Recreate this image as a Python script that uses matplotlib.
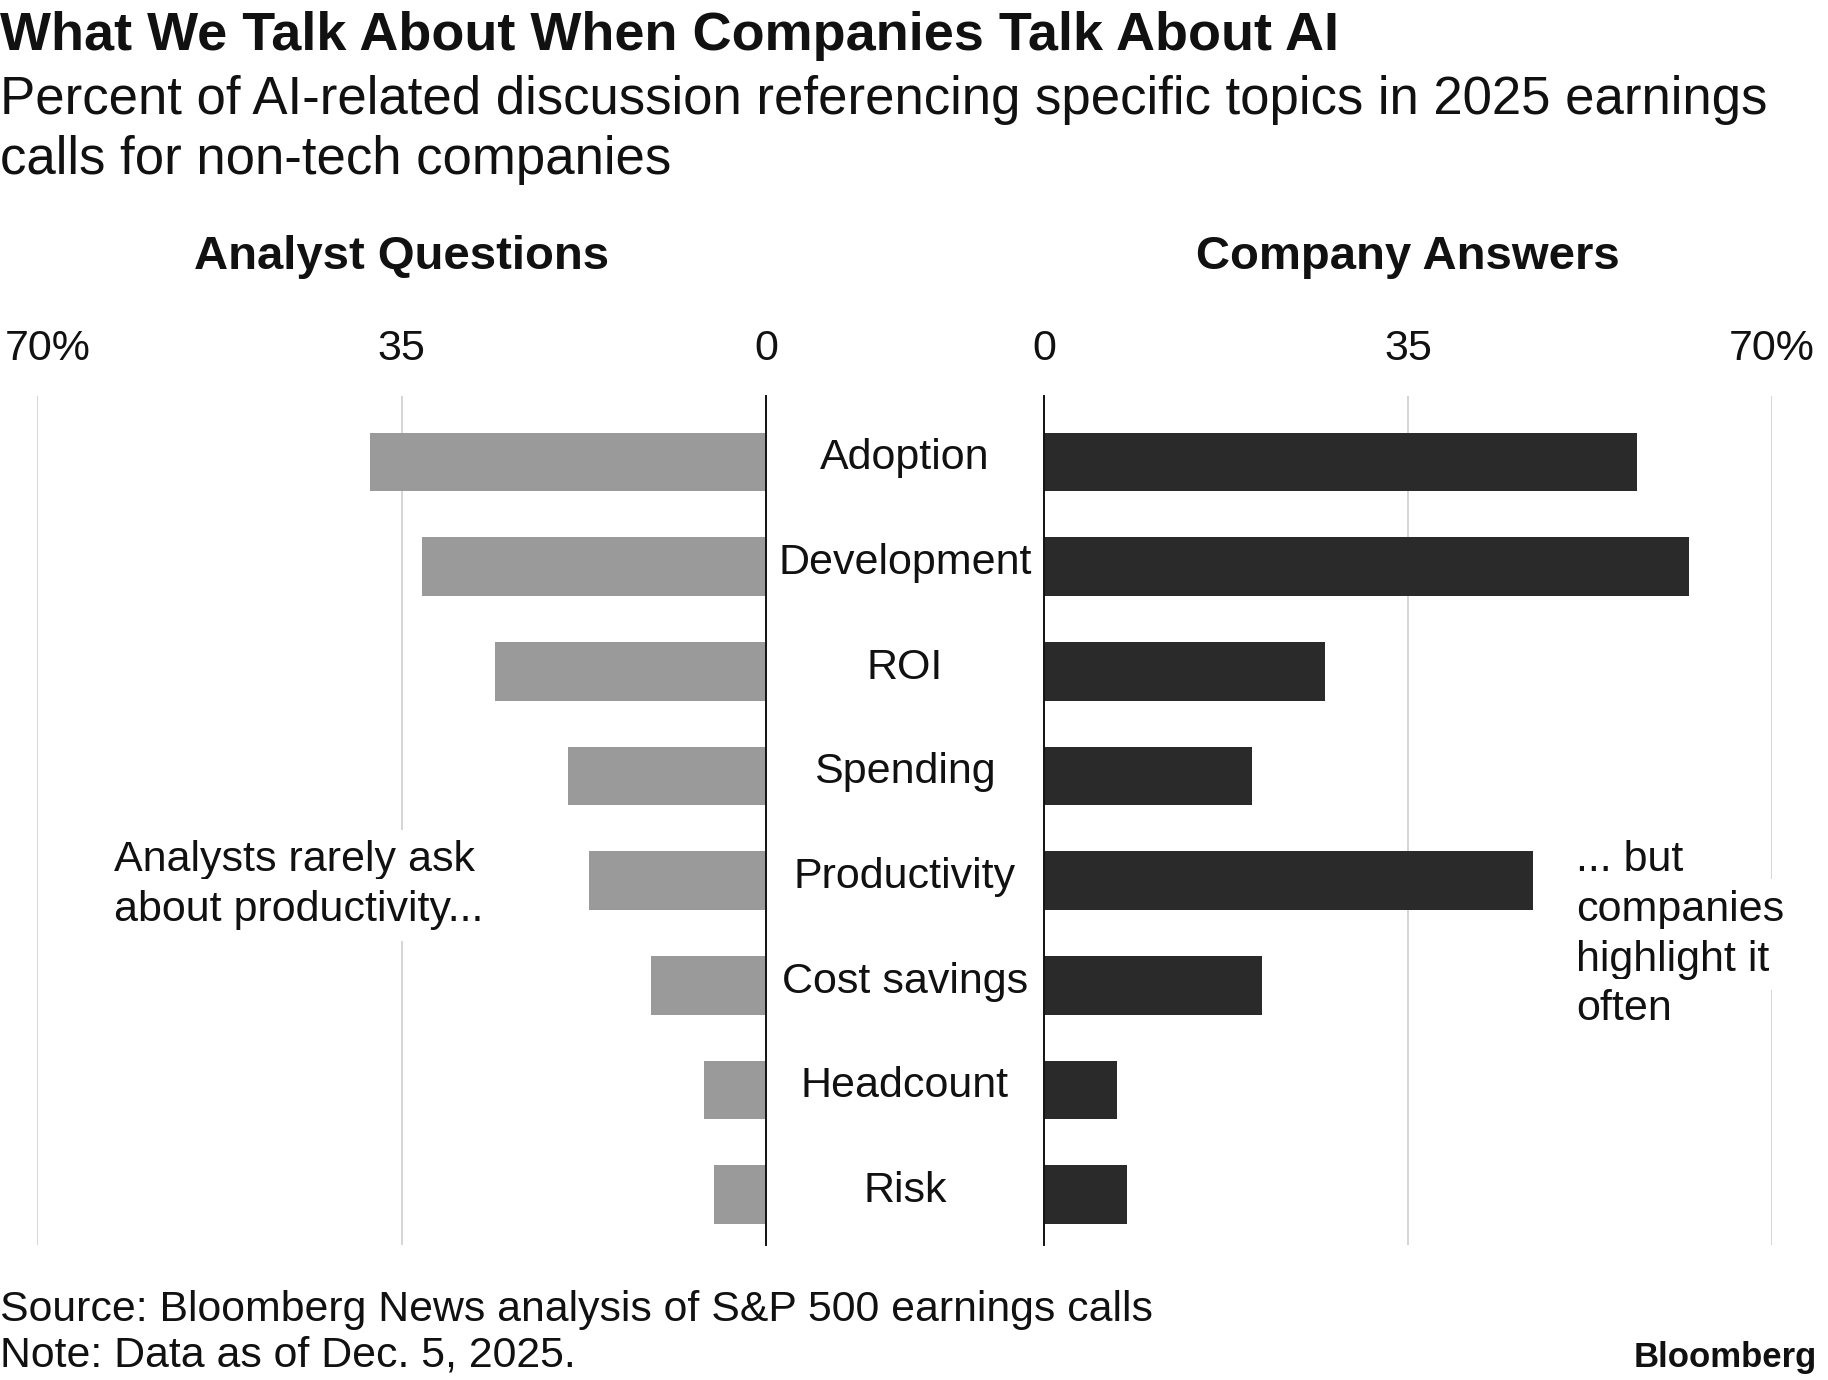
import matplotlib
matplotlib.use("Agg")
import matplotlib.pyplot as plt
from matplotlib.transforms import blended_transform_factory, ScaledTranslation

# ---------------- data ----------------
topics = ["Adoption", "Development", "ROI", "Spending", "Productivity",
          "Cost savings", "Headcount", "Risk"]
analyst_questions = [38, 33, 26, 19, 17, 11, 6, 5]
company_answers = [57, 62, 27, 20, 47, 21, 7, 8]
tick_values = [0, 35, 70]
tick_labels = ["0", "35", "70%"]

title = "What We Talk About When Companies Talk About AI"
subtitle = ("Percent of AI-related discussion referencing specific topics in 2025 earnings\n"
            "calls for non-tech companies")
left_heading = "Analyst Questions"
right_heading = "Company Answers"
left_note = ["Analysts rarely ask", "about productivity..."]
right_note = ["... but", "companies", "highlight it", "often"]
source = "Source: Bloomberg News analysis of S&P 500 earnings calls"
note = "Note: Data as of Dec. 5, 2025."
brand = "Bloomberg"

# ---------------- style ----------------
plt.rcParams['font.family'] = ['Liberation Sans', 'DejaVu Sans']
W, H = 1828, 1380
fig = plt.figure(figsize=(W / 100, H / 100), dpi=100)
fig.patch.set_facecolor("white")


def fx(px):
    return px / W


def fy(py):
    return 1 - py / H


AX_TOP, AX_BOT = 396, 1245
L0, L1 = 37, 766
R0, R1 = 1044, 1772
ax_l = fig.add_axes([fx(L0), fy(AX_BOT), fx(L1) - fx(L0), (AX_BOT - AX_TOP) / H])
ax_r = fig.add_axes([fx(R0), fy(AX_BOT), fx(R1) - fx(R0), (AX_BOT - AX_TOP) / H])

GRID = "#d2d2d2"
BODY = 31
n = len(topics)
ypos = list(range(n))

for ax, vals, color in [(ax_l, analyst_questions, "#9a9a9a"),
                        (ax_r, company_answers, "#2a2a2a")]:
    ax.barh(ypos, vals, height=0.56, color=color, zorder=2)
    ax.set_ylim(n - 1 + 0.48, -0.63)
    for v in tick_values[1:]:
        ax.axvline(v, color=GRID, lw=1.3, zorder=0)
    ax.axvline(0, color="#111111", lw=1.4, zorder=3, clip_on=False)
    ax.set_xticks([])
    ax.set_yticks([])
    for s in ax.spines.values():
        s.set_visible(False)
    ax.patch.set_alpha(0)

ax_l.set_xlim(70, 0)
ax_r.set_xlim(0, 70)

# tick labels above each panel
for ax, side in [(ax_l, "left"), (ax_r, "right")]:
    tr = blended_transform_factory(ax.transData, ax.transAxes)
    for v, lab in zip(tick_values, tick_labels):
        dx = 0
        if side == "left" and v == 70:
            dx = 11
        t = tr + ScaledTranslation(dx / 100, 36 / 100, fig.dpi_scale_trans)
        ax.text(v, 1, lab, transform=t, ha="center", va="baseline",
                fontsize=BODY, color="#111111")

# panel headings
fig.text((fx(L0) + fx(L1)) / 2, fy(269), left_heading, ha="center",
         va="baseline", fontsize=34, fontweight="bold", color="#111111")
fig.text((fx(R0) + fx(R1)) / 2, fy(269), right_heading, ha="center",
         va="baseline", fontsize=34, fontweight="bold", color="#111111")

# category labels in the middle gap
trc = blended_transform_factory(fig.transFigure, ax_r.transData)
for i, name in enumerate(topics):
    fig.text((fx(L1) + fx(R0)) / 2, i + 0.07, name, transform=trc, ha="center",
             va="baseline", fontsize=BODY, color="#111111")

# annotations
pidx = topics.index("Productivity")
box = dict(boxstyle="square,pad=0.25", fc="white", ec="none")
for k, line in enumerate(left_note):
    ax_l.text(62.6, pidx - 0.09 + 0.475 * k, line, ha="left", va="baseline",
              fontsize=BODY, color="#111111", bbox=box, zorder=4)
for k, line in enumerate(right_note):
    ax_r.text(51.2, pidx - 0.09 + 0.475 * k, line, ha="left", va="baseline",
              fontsize=BODY, color="#111111", bbox=box, zorder=4)

# titles
fig.text(0.0, fy(50), title, ha="left", va="baseline", fontsize=38.9,
         fontweight="bold", color="#111111")
fig.text(0.0, fy(75), subtitle, ha="left", va="top", fontsize=38,
         color="#111111", linespacing=1.25)

# footer
fig.text(0.0, fy(1321), source, ha="left", va="baseline", fontsize=30.8,
         color="#111111")
fig.text(0.0, fy(1367), note, ha="left", va="baseline", fontsize=30.8,
         color="#111111")
fig.text(fx(1817), fy(1367), brand, ha="right", va="baseline", fontsize=25,
         fontweight="bold", color="#111111")

fig.savefig("out.png", dpi=100, facecolor="white")
